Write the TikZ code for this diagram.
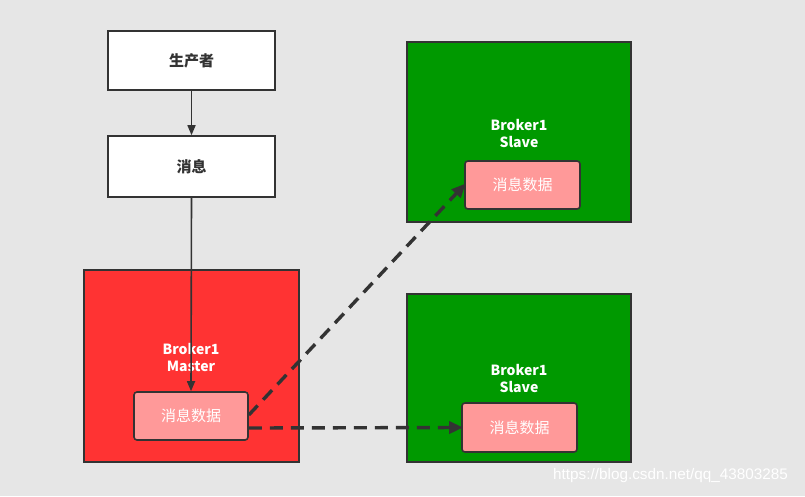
\documentclass[tikz,border=0pt]{standalone}
\usepackage{fontspec}
\setmainfont{Noto Sans CJK SC}
\newfontfamily\wmfont{Liberation Sans}
\usetikzlibrary{arrows.meta}
\definecolor{bg}{HTML}{E6E6E6}
\definecolor{ln}{HTML}{333333}
\definecolor{mred}{HTML}{FF3333}
\definecolor{sgreen}{HTML}{009900}
\definecolor{pink}{HTML}{FF9999}
\tikzset{
  wbox/.style={draw=ln, line width=1.6pt, fill=white, font=\fontsize{15}{17}\selectfont\bfseries, text=ln},
  broker/.style={draw=ln, line width=1.6pt},
  databox/.style={draw=ln, line width=1.6pt, fill=pink, rounded corners=3pt, text=white, font=\fontsize{15}{17}\selectfont},
  blabel/.style={text=white, font=\fontsize{14}{17}\selectfont\bfseries, align=center},
  solidarr/.style={draw=ln, line width=1.6pt, -{Triangle[length=10pt,width=8pt]}},
  dasharr/.style={draw=ln, line width=3.4pt, dash pattern=on 13pt off 8pt, -{Triangle[length=14pt,width=12pt]}, shorten >=-2pt}
}
\begin{document}
\begin{tikzpicture}[x=1pt,y=-1pt]
\fill[bg] (0,0) rectangle (805,496);
\useasboundingbox (0,0) rectangle (805,496);
% producer and message
\node[wbox, minimum width=167pt, minimum height=59pt] (prod) at (191.5,60.5) {生产者};
\node[wbox, minimum width=167pt, minimum height=61pt] (msg) at (191.5,166.5) {消息};
% brokers
\node[broker, fill=mred, minimum width=215pt, minimum height=192pt] (master) at (191.5,366) {};
\node[broker, fill=sgreen, minimum width=224pt, minimum height=180pt] (slave1) at (519,132) {};
\node[broker, fill=sgreen, minimum width=224pt, minimum height=168pt] (slave2) at (519,378) {};
\node[blabel] (ml) at (191,357) {Broker1\\Master};
\node[blabel] (s1l) at (519,133) {Broker1\\Slave};
\node[blabel] (s2l) at (519,378) {Broker1\\Slave};
% data boxes
\node[databox, minimum width=114pt, minimum height=48pt] (md) at (191,416) {消息数据};
\node[databox, minimum width=115pt, minimum height=48pt] (s1d) at (522.5,185) {消息数据};
\node[databox, minimum width=115pt, minimum height=49pt] (s2d) at (519.5,427.5) {消息数据};
% connectors
\draw[solidarr] (prod.south) -- (msg.north);
\draw[solidarr] (msg.south) -- (md.north);
\draw[dasharr] ([yshift=1pt]md.east) -- (s1d.west);
\draw[dasharr] ([yshift=-12pt]md.east) -- (s2d.west);
% watermark
\node[text=white, font=\wmfont\fontsize{15.3}{18}\selectfont, anchor=west, inner sep=0pt] (wm) at (553,476) {https://blog.csdn.net/qq\_43803285};
\end{tikzpicture}
\end{document}
